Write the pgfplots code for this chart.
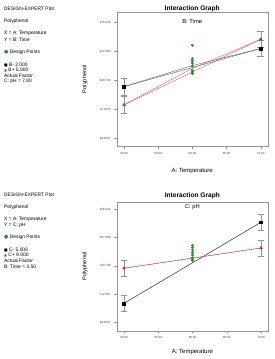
\documentclass[border=0pt]{standalone}
\usepackage{pgfplots}
\pgfplotsset{compat=1.18}
\usepackage{fontspec}
\setmainfont{Liberation Sans}
\newfontfamily\symfont{DejaVu Sans}
\definecolor{dred}{RGB}{190,40,50}
\definecolor{dgreen}{RGB}{40,140,50}
\definecolor{lgray}{RGB}{150,150,150}
\pgfplotsset{
  ieplot/.style={
    scale only axis,
    xmin=48.93, xmax=71.02,
    xtick={50,55,60,65,70},
    xticklabels={50.00,55.00,60.00,65.00,70.00},
    axis line style={lgray, line width=0.4pt},
    tick style={lgray, line width=0.3pt},
    tick align=outside,
    major tick length=2.5pt,
    xtick pos=bottom, ytick pos=left,
    ticklabel style={font=\fontsize{3}{3.5}\selectfont, text=black!75},
    clip=false,
  },
  blk/.style={black!70, line width=0.35pt, mark=square*, mark size=1.4pt, mark options={fill=black, draw=black},
    error bars/.cd, y dir=both, y explicit, error bar style={lgray, line width=0.35pt}, error mark options={lgray, mark size=3.3pt, rotate=90, line width=0.35pt}},
  rdl/.style={dred!80, line width=0.35pt, mark=triangle*, mark size=1.6pt, mark options={fill=dred, draw=dred},
    error bars/.cd, y dir=both, y explicit, error bar style={lgray, line width=0.35pt}, error mark options={lgray, mark size=3.3pt, rotate=90, line width=0.35pt}},
  grn/.style={only marks, mark=*, mark size=1.2pt, mark options={fill=dgreen, draw=dgreen}},
}
\begin{document}
\begin{tikzpicture}
\useasboundingbox (0pt,0pt) rectangle (275pt,-359pt);
% ---------- top text panel ----------
\begin{scope}[every node/.style={anchor=west, inner sep=0pt, font=\fontsize{4.9}{5.5}\selectfont}]
\node at (4pt,-9pt) {DESIGN-EXPERT Plot};
\node at (4pt,-21.7pt) {Polyphenol};
\node at (4pt,-33.5pt) {X = A: Temperature};
\node at (4pt,-39.3pt) {Y = B: Time};
\node at (4pt,-52.3pt) {{\color{dgreen}\symfont ●} Design Points};
\node at (4pt,-65pt) {{\symfont\fontsize{3.8}{4}\selectfont ■} B- 2.000};
\node at (4pt,-70.3pt) {{\color{dred}\symfont\fontsize{3.8}{4}\selectfont ▲} B+ 5.000};
\node at (4pt,-75.6pt) {Actual Factor};
\node at (4pt,-81pt) {C: pH = 7.00};
% ---------- bottom text panel ----------
\node at (4pt,-195pt) {DESIGN-EXPERT Plot};
\node at (4pt,-207.3pt) {Polyphenol};
\node at (4pt,-219.5pt) {X = A: Temperature};
\node at (4pt,-225.3pt) {Y = C: pH};
\node at (4pt,-237.7pt) {{\color{dgreen}\symfont ●} Design Points};
\node at (4pt,-250pt) {{\symfont\fontsize{3.8}{4}\selectfont ■} C- 5.000};
\node at (4pt,-255.3pt) {{\color{dred}\symfont\fontsize{3.8}{4}\selectfont ▲} C+ 9.000};
\node at (4pt,-260.8pt) {Actual Factor};
\node at (4pt,-266.5pt) {B: Time = 3.50};
\end{scope}
% ---------- top axis ----------
\begin{axis}[ieplot,
  at={(116.7pt,-146pt)}, anchor=south west,
  width=151pt, height=133.7pt,
  ymin=80.97, ymax=139.55,
  ytick={84.4557,97.0973,109.739,122.380,135.022},
  yticklabels={84.4557,97.0973,109.739,122.380,135.022},
]
\node[font=\bfseries\fontsize{6.6}{7}\selectfont] at (axis description cs:0.5,1.025) {Interaction Graph};
\node[font=\fontsize{5.8}{6}\selectfont] at (axis description cs:0.5,0.935) {B: Time};
\node[font=\fontsize{6}{6}\selectfont] at (axis description cs:0.5,-0.187) {A: Temperature};
\node[font=\fontsize{5.6}{6}\selectfont, rotate=90] at (axis description cs:-0.21,0.5) {Polyphenol};
\addplot[blk] coordinates {(50,107.0) +- (0,3.6) (70,123.7) +- (0,3.5)};
\addplot[black!70, line width=0.35pt] coordinates {(50,107.0) (60,116.2) (70,123.7)};
\addplot[rdl] coordinates {(50,99.0) +- (0,3.7) (70,127.7) +- (0,3.4)};
\addplot[dred!80, line width=0.35pt] coordinates {(50,99.0) (60,115.0) (70,127.7)};
\addplot[grn] coordinates {(60,125.1) (60,119.2) (60,118.2) (60,117.2) (60,116.0) (60,114.2) (60,113.4) (60,112.7)};
\end{axis}
% ---------- bottom axis ----------
\begin{axis}[ieplot,
  at={(116.7pt,-330.7pt)}, anchor=south west,
  width=151.3pt, height=128.7pt,
  ymin=76.26, ymax=201.85,
  ytick={84.4557,112.097,139.739,167.380,195.022},
  yticklabels={84.4557,112.097,139.739,167.380,195.022},
]
\node[font=\bfseries\fontsize{6.6}{7}\selectfont] at (axis description cs:0.5,1.047) {Interaction Graph};
\node[font=\fontsize{5.8}{6}\selectfont] at (axis description cs:0.5,0.963) {C: pH};
\node[font=\fontsize{6}{6}\selectfont] at (axis description cs:0.5,-0.166) {A: Temperature};
\node[font=\fontsize{5.6}{6}\selectfont, rotate=90] at (axis description cs:-0.21,0.5) {Polyphenol};
\addplot[blk] coordinates {(50,103.0) +- (0,7.5) (70,182.1) +- (0,7.7)};
\addplot[black!70, line width=0.35pt] coordinates {(50,103.0) (70,182.1)};
\addplot[rdl] coordinates {(50,137.2) +- (0,8.0) (70,157.0) +- (0,7.8)};
\addplot[dred!80, line width=0.35pt] coordinates {(50,137.2) (70,157.0)};
\addplot[grn] coordinates {(60,159.6) (60,157.3) (60,155.0) (60,152.4) (60,150.2) (60,147.5) (60,146.0) (60,144.6)};
\end{axis}
\end{tikzpicture}
\end{document}
